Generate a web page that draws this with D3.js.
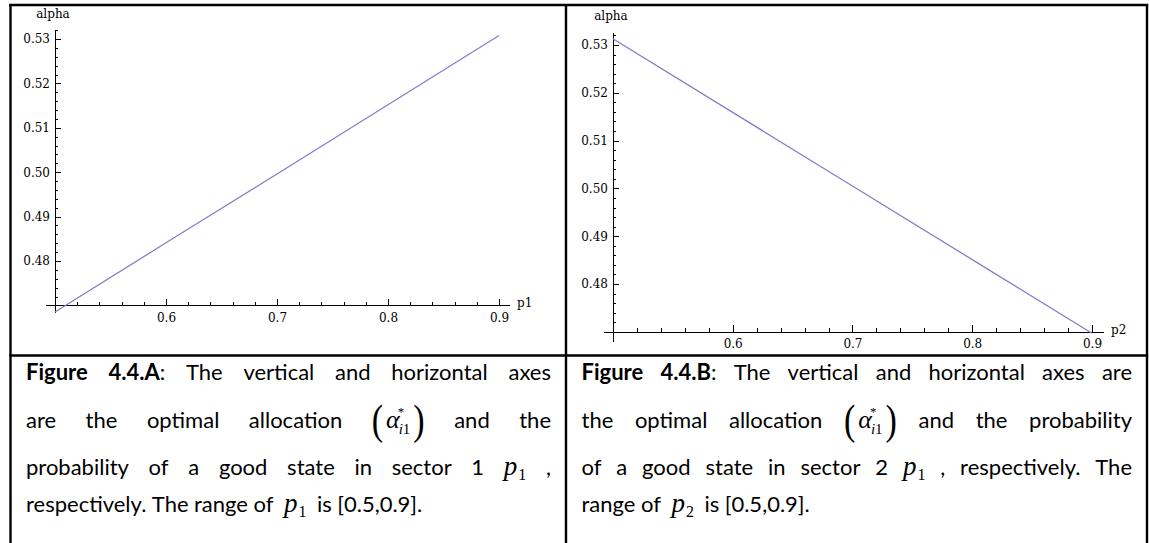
<!DOCTYPE html>
<meta charset="utf-8">
<style>
body { margin: 0; background: #fff; }
svg { position: absolute; left: 0; top: 0; background: #fff; }
.axis path, .axis line { stroke: #000; stroke-width: 1px; shape-rendering: crispEdges; }
.axis text { font-family: 'DejaVu Serif', serif; font-size: 12px; fill: #000; }
.lbl { font-family: 'DejaVu Serif', serif; font-size: 12px; fill: #000; }
.cap { font-family: Lato, 'Open Sans', sans-serif; font-size: 22px; fill: #000; }
.math { font-family: 'Liberation Serif', 'DejaVu Serif', serif; fill: #000; }
</style>
<svg width="1149" height="543"></svg>
<script src="https://d3js.org/d3.v7.min.js"></script>
<script>
// values
var pA = [0.5, 0.6, 0.7, 0.8, 0.9];
var alphaA = [0.4685, 0.4841, 0.4996, 0.5152, 0.5308];
var pB = [0.5, 0.6, 0.7, 0.8, 0.9];
var alphaB = [0.5313, 0.5159, 0.5005, 0.4851, 0.4697];

var xMajor = [0.6, 0.7, 0.8, 0.9];
var xMinor = [0.52, 0.54, 0.56, 0.58, 0.62, 0.64, 0.66, 0.68, 0.72, 0.74, 0.76, 0.78, 0.82, 0.84, 0.86, 0.88];
var yMajor = [0.48, 0.49, 0.50, 0.51, 0.52, 0.53];
var yMinor = [0.472, 0.474, 0.476, 0.478, 0.482, 0.484, 0.486, 0.488, 0.492, 0.494, 0.496, 0.498,
              0.502, 0.504, 0.506, 0.508, 0.512, 0.514, 0.516, 0.518, 0.522, 0.524, 0.526, 0.528, 0.532];

var captionA = [
  "**Figure** **4.4.A**:  The vertical and horizontal axes",
  "are the optimal allocation {alpha} and the",
  "probability of a good state in sector 1 {p1} ,",
  "respectively. The range of {p1} is [0.5,0.9]."
];
var captionB = [
  "**Figure** **4.4.B**:  The vertical and horizontal axes are",
  "the optimal allocation {alpha} and the probability",
  "of a good state in sector 2 {p1} , respectively. The",
  "range of {p2} is [0.5,0.9]."
];

var svg = d3.select("svg");
var lineColor = "#8080c8";

function drawPlot(o) {
  var x = d3.scaleLinear().domain(o.xDom).range(o.xRange);
  var y = d3.scaleLinear().domain(o.yDom).range(o.yRange);
  var g = svg.append("g");
  var ax = x(0.5), ay = y(0.47);

  // minor ticks first
  g.append("g").attr("class", "axis").attr("transform", "translate(0," + ay + ")")
    .call(d3.axisBottom(x).tickValues(xMinor).tickSize(-3.5).tickSizeOuter(0).tickFormat(""));
  g.append("g").attr("class", "axis").attr("transform", "translate(" + ax + ",0)")
    .call(d3.axisLeft(y).tickValues(yMinor).tickSize(-3.5).tickSizeOuter(0).tickFormat(""));

  g.append("g").attr("class", "axis").attr("transform", "translate(0," + ay + ")")
    .call(d3.axisBottom(x).tickValues(xMajor).tickSize(-6.5).tickSizeOuter(0).tickPadding(8)
      .tickFormat(d3.format(".1f")));
  g.append("g").attr("class", "axis").attr("transform", "translate(" + ax + ",0)")
    .call(d3.axisLeft(y).tickValues(yMajor).tickSize(-6.5).tickSizeOuter(0).tickPadding(5)
      .tickFormat(d3.format(".2f")));

  var data = o.p.map(function(d, i) { return [d, o.a[i]]; });
  g.append("path")
    .datum(data)
    .attr("fill", "none")
    .attr("stroke", lineColor)
    .attr("stroke-width", 1.3)
    .attr("d", d3.line().x(function(d) { return x(d[0]); }).y(function(d) { return y(d[1]); }));

  g.append("text").attr("class", "lbl").attr("x", ax - 2).attr("y", o.yRange[1] - 12)
    .attr("text-anchor", "middle").text("alpha");
  g.append("text").attr("class", "lbl").attr("x", o.xRange[1] + 8).attr("y", ay + 2)
    .text(o.xName);
}

drawPlot({ p: pA, a: alphaA, xName: "p1",
  xDom: [0.491, 0.909], xRange: [45, 509],
  yDom: [0.4684, 0.532], yRange: [312.5, 30.1] });
drawPlot({ p: pB, a: alphaB, xName: "p2",
  xDom: [0.4917, 0.9092], xRange: [603, 1103],
  yDom: [0.4679, 0.5327], yRange: [341.8, 32.1] });

// table borders
var borders = svg.append("g").attr("stroke", "#000").attr("stroke-width", 2.4);
borders.append("line").attr("x1", 9.3).attr("x2", 1148.2).attr("y1", 5).attr("y2", 5);
borders.append("line").attr("x1", 9.3).attr("x2", 1148.2).attr("y1", 355.5).attr("y2", 355.5);
borders.append("line").attr("x1", 10.5).attr("x2", 10.5).attr("y1", 4).attr("y2", 543);
borders.append("line").attr("x1", 566).attr("x2", 566).attr("y1", 4).attr("y2", 543);
borders.append("line").attr("x1", 1147).attr("x2", 1147).attr("y1", 4).attr("y2", 543);

// caption tokens
function makeToken(parent, s) {
  var g = parent.append("g");
  var w = 0;
  if (s === "{alpha}") {
    var lp = g.append("text").attr("class", "math").attr("font-size", 34)
      .attr("transform", "translate(0,6) scale(1,1.25)").text("(");
    w = lp.node().getComputedTextLength() + 3;
    var al = g.append("text").attr("class", "math").attr("font-size", 26)
      .attr("font-style", "italic").attr("x", w).text("\u03b1");
    w += al.node().getComputedTextLength();
    g.append("text").attr("class", "math").attr("font-size", 13).attr("x", w - 2).attr("y", -12).text("*");
    var sub = g.append("text").attr("class", "math").attr("font-size", 15).attr("x", w - 1).attr("y", 6);
    sub.append("tspan").attr("font-style", "italic").text("i");
    sub.append("tspan").text("1");
    w += sub.node().getComputedTextLength() + 2;
    var rp = g.append("text").attr("class", "math").attr("font-size", 34)
      .attr("transform", "translate(" + w + ",6) scale(1,1.25)").text(")");
    w += rp.node().getComputedTextLength();
    return { g: g, w: w, math: true };
  }
  var m = s.match(/^\{p(\d)\}$/);
  if (m) {
    var p = g.append("text").attr("class", "math").attr("font-size", 27)
      .attr("font-style", "italic").text("p");
    w = p.node().getComputedTextLength();
    var s1 = g.append("text").attr("class", "math").attr("font-size", 16).attr("x", w + 1).attr("y", 5).text(m[1]);
    w += s1.node().getComputedTextLength() + 1;
    return { g: g, w: w, math: true };
  }
  var t = g.append("text").attr("class", "cap");
  var b = s.match(/^\*\*(.+)\*\*(.*)$/);
  if (b) {
    t.append("tspan").attr("font-weight", "bold").text(b[1]);
    if (b[2]) t.append("tspan").text(b[2]);
  } else {
    t.text(s);
  }
  return { g: g, w: t.node().getComputedTextLength(), math: false };
}

function drawCaption(lines, x0, x1, baselines) {
  var cg = svg.append("g");
  lines.forEach(function(line, li) {
    var toks = line.split(/\s+/).map(function(s) { return makeToken(cg, s); });
    var total = d3.sum(toks, function(d) { return d.w; });
    var last = li === lines.length - 1;
    var gap = last ? 5.5 : (x1 - x0 - total) / (toks.length - 1);
    var cx = x0;
    toks.forEach(function(t, i) {
      if (last && i > 0 && (t.math || toks[i - 1].math)) cx += 5;
      t.g.attr("transform", "translate(" + cx + "," + baselines[li] + ")");
      cx += t.w + gap;
    });
  });
}

drawCaption(captionA, 26, 551, [380, 428, 475, 512]);
drawCaption(captionB, 581.5, 1132, [380, 428, 475, 512]);
</script>
